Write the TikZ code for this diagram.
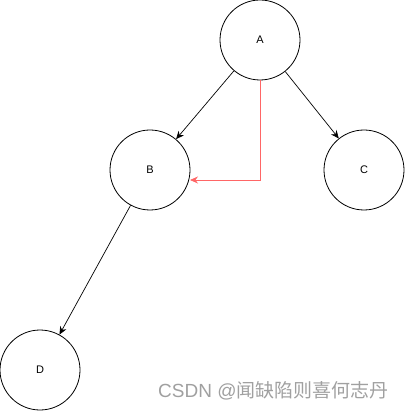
\documentclass[tikz,border=0pt]{standalone}
\usepackage{fontspec}
\setmainfont{Liberation Sans}
\newfontfamily\cjk{Noto Sans CJK SC}
\usetikzlibrary{arrows.meta}
\definecolor{redline}{HTML}{FF6666}
\definecolor{wmgray}{HTML}{A0A0A0}
\begin{document}
\begin{tikzpicture}[x=1pt,y=-1pt,
  vertex/.style={circle,draw=black,line width=0.8pt,minimum size=80pt,inner sep=0pt,font=\fontsize{11}{13}\selectfont},
  edge/.style={line width=0.7pt,-{Stealth[length=8pt,width=7pt]}},
  rededge/.style={draw=redline,line width=0.8pt,-{Stealth[length=8pt,width=7pt]}}]
\useasboundingbox (0,0) rectangle (405,411);
\node[vertex] (A) at (260,40) {A};
\node[vertex] (B) at (150,170) {B};
\node[vertex] (C) at (364,170) {C};
\node[vertex] (D) at (40,370) {D};
\draw[edge] (A) -- (B);
\draw[edge] (A) -- (C);
\draw[edge] (B) -- (D);
\coordinate (corner) at (260,180);
\draw[rededge] (A.south) -- (corner) -- (190,180);
\node[anchor=west,text=wmgray,inner sep=0pt,font=\fontsize{19}{21}\selectfont] (wm) at (158,391) {CSDN @{\cjk 闻缺陷则喜何志丹}};
\end{tikzpicture}
\end{document}
